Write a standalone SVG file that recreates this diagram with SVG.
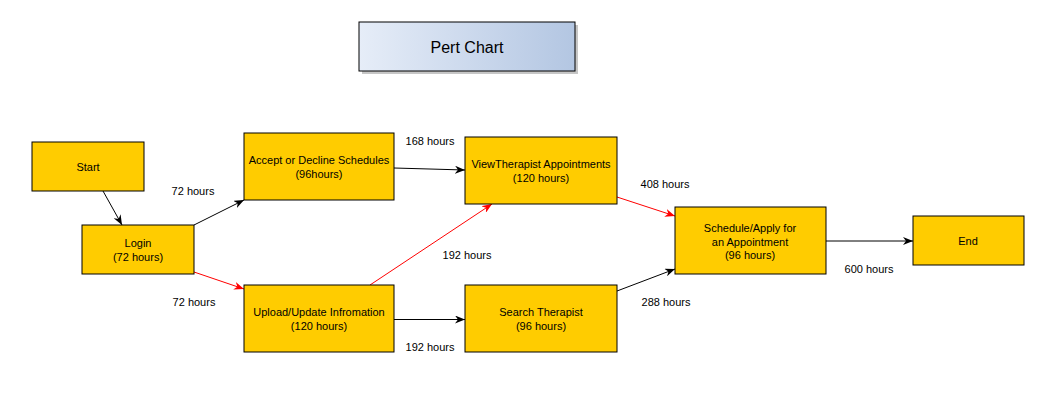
<svg xmlns="http://www.w3.org/2000/svg" width="1052" height="407" viewBox="0 0 1052 407">
<style>
.node rect{fill:#ffcc00;stroke:#000;stroke-width:1}
text{font-family:"Liberation Sans",Arial,sans-serif;font-size:11px;fill:#000;text-anchor:middle;dominant-baseline:central}
.lbl{font-size:11px}
.blk{stroke:#000;stroke-width:1;fill:none;marker-end:url(#ab)}
.red{stroke:#ff0000;stroke-width:1;fill:none;marker-end:url(#ar)}
</style>
<defs>
<linearGradient id="tg" x1="0" y1="0" x2="1" y2="0">
<stop offset="0" stop-color="#e6edf8"/>
<stop offset="1" stop-color="#b3c6e2"/>
</linearGradient>
<marker id="ab" viewBox="0 0 10 8" refX="10" refY="4" markerWidth="10" markerHeight="8" markerUnits="userSpaceOnUse" orient="auto">
<path d="M0,0 L10,4 L0,8 L3,4 Z" fill="#000"/>
</marker>
<marker id="ar" viewBox="0 0 10 8" refX="10" refY="4" markerWidth="10" markerHeight="8" markerUnits="userSpaceOnUse" orient="auto">
<path d="M0,0 L10,4 L0,8 L3,4 Z" fill="#ff0000"/>
</marker>
</defs>
<rect width="1052" height="407" fill="#fff"/>
<g id="title">
<rect x="362" y="25" width="216" height="49" fill="#a0a0a0" opacity="0.6"/>
<rect x="359" y="22" width="216" height="49" fill="url(#tg)" stroke="#000" stroke-width="1"/>
<text x="467" y="47" style="font-size:16px">Pert Chart</text>
</g>
<g id="connectors">
<path class="blk" d="M103,191 L122,225"/>
<path class="blk" d="M194,225 L244,200"/>
<path class="red" d="M194,272 L244,289"/>
<path class="blk" d="M394,168 L465,170"/>
<path class="red" d="M370,285 L492,204"/>
<path class="blk" d="M394,319.5 L465,319.5"/>
<path class="red" d="M617,197 L675,216"/>
<path class="blk" d="M617,291 L675,269"/>
<path class="blk" d="M826,241 L913,241"/>
<text class="lbl" x="193" y="191">72 hours</text>
<text class="lbl" x="194" y="302">72 hours</text>
<text class="lbl" x="430" y="141">168 hours</text>
<text class="lbl" x="467" y="255">192 hours</text>
<text class="lbl" x="430" y="347">192 hours</text>
<text class="lbl" x="665" y="184">408 hours</text>
<text class="lbl" x="666" y="302">288 hours</text>
<text class="lbl" x="869" y="269">600 hours</text>
</g>
<g id="start" class="node"><rect x="32" y="142" width="112" height="49"/><text x="88" y="167">Start</text></g>
<g id="login" class="node"><rect x="82" y="225" width="112" height="49"/><text x="138" y="243">Login</text><text x="138" y="257">(72 hours)</text></g>
<g id="accept" class="node"><rect x="244" y="133" width="150" height="67"/><text x="319" y="160">Accept or Decline Schedules</text><text x="319" y="174">(96hours)</text></g>
<g id="upload" class="node"><rect x="244" y="285" width="150" height="67"/><text x="319" y="312">Upload/Update Infromation</text><text x="319" y="326">(120 hours)</text></g>
<g id="view" class="node"><rect x="465" y="137" width="152" height="67"/><text x="541" y="164">ViewTherapist Appointments</text><text x="541" y="178">(120 hours)</text></g>
<g id="search" class="node"><rect x="465" y="285" width="152" height="67"/><text x="541" y="312">Search Therapist</text><text x="541" y="326">(96 hours)</text></g>
<g id="schedule" class="node"><rect x="675" y="207" width="151" height="67"/><text x="750" y="228">Schedule/Apply for</text><text x="750" y="242">an Appointment</text><text x="750" y="255">(96 hours)</text></g>
<g id="end" class="node"><rect x="913" y="216" width="111" height="49"/><text x="968" y="241">End</text></g>
</svg>
